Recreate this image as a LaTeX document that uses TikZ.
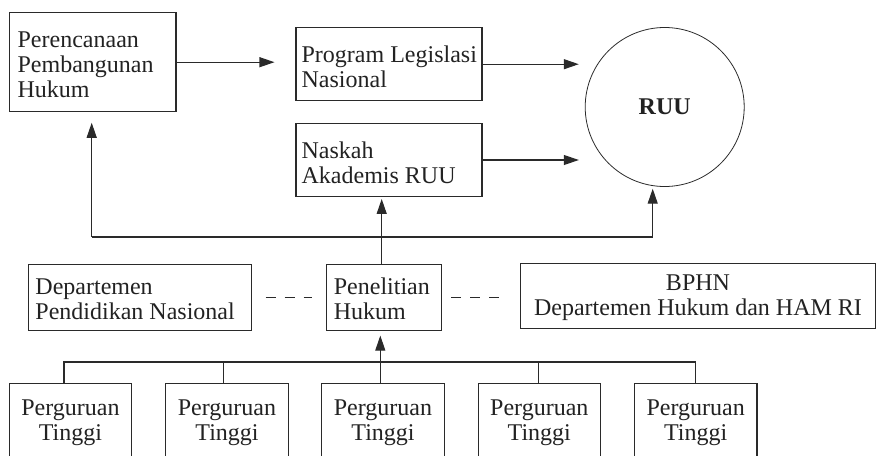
\documentclass[tikz,border=0pt]{standalone}
\usepackage{fontspec}
\setmainfont{Liberation Serif}
\usetikzlibrary{arrows.meta,calc}
\definecolor{ink}{HTML}{2A2A2A}
\definecolor{txt}{HTML}{222222}
\begin{document}
\begin{tikzpicture}[x=1pt,y=-1pt,
  frame/.style={draw=ink, line width=1.1pt, inner sep=0pt},
  lbl/.style={inner sep=0pt, align=left, anchor=west, font=\fontsize{24}{25}\selectfont, text=txt},
  cbox/.style={draw=ink, line width=1.1pt, inner xsep=6pt, inner ysep=0pt, align=center,
    font=\fontsize{24}{25}\selectfont, text=txt},
  arr/.style={draw=ink, line width=1.1pt, -{Triangle[length=15pt,width=10pt]}},
  ln/.style={draw=ink, line width=1.1pt},
  dsh/.style={draw=ink, line width=1.1pt, dash pattern=on 10pt off 9pt}]
\useasboundingbox (0,0) rectangle (877,455);
\clip (0,0) rectangle (877,455);

% top row
\node[frame, minimum width=166.5pt, minimum height=99pt] (perenc) at (92.75,62.2) {};
\node[lbl] (perenc-t) at ([xshift=8.5pt,yshift=-2.5pt]perenc.west)
  {Perencanaan\\Pembangunan\\Hukum};
\node[frame, minimum width=186pt, minimum height=73pt] (prog) at (389,64.2) {};
\node[lbl] (prog-t) at ([xshift=6pt,yshift=-2.5pt]prog.west)
  {Program Legislasi\\Nasional};
\node[frame, minimum width=186pt, minimum height=73.4pt] (naskah) at (389,160) {};
\node[lbl] (naskah-t) at ([xshift=6pt,yshift=-2.5pt]naskah.west)
  {Naskah\\Akademis RUU};
\node[draw=ink, line width=0.8pt, circle, minimum size=159pt, inner sep=0pt,
  font=\fontsize{24}{25}\selectfont\bfseries, text=txt] (ruu) at (664.7,107) {RUU};

% middle row
\node[frame, minimum width=223.4pt, minimum height=65.7pt] (dep) at (140,297.2) {};
\node[lbl] (dep-t) at ([xshift=7.5pt,yshift=-2pt]dep.west)
  {Departemen\\Pendidikan Nasional};
\node[frame, minimum width=115pt, minimum height=65.7pt] (pen) at (384.2,297.2) {};
\node[lbl] (pen-t) at ([xshift=7.5pt,yshift=-2pt]pen.west)
  {Penelitian\\Hukum};
\node[frame, minimum width=355pt, minimum height=65pt] (bphn) at (698,296) {};
\node[lbl, anchor=center, align=center] (bphn-t) at ([yshift=-2pt]bphn.center)
  {BPHN\\Departemen Hukum dan HAM RI};

% bottom row
\foreach \i/\x in {1/70.5,2/227,3/383,4/539.3,5/695.7}{
  \node[cbox, anchor=north, minimum width=122.5pt, inner ysep=17pt] (pt\i) at (\x,382.7)
    {Perguruan\\Tinggi};
}

% coordinates for connector routing
\coordinate (j) at (381.7,237);
\coordinate (k) at (652.7,237);
\coordinate (m) at (91.7,237);
\coordinate (b1) at (64,362);
\coordinate (b2) at (223.7,362);
\coordinate (b3) at (380.3,362);
\coordinate (b4) at (538.7,362);
\coordinate (b5) at (695.7,362);

% top arrows
\draw[arr, shorten >=21pt] (perenc.east) -- (perenc.east -| prog.west);
\draw[arr, shorten >=6pt] (prog.east) -- (prog.east -| ruu.west);
\draw[arr, shorten >=6pt] (naskah.east) -- (naskah.east -| ruu.west);

% feedback
\draw[arr, shorten >=1.7pt] (j |- pen.north) -- (j |- naskah.south);
\draw[ln] (m) -- (k);
\draw[arr, shorten >=10.5pt] (m) -- (m |- perenc.south);
\draw[arr, shorten >=1.8pt] (k) -- (k |- ruu.south);

% dashed links
\draw[dsh, shorten <=13.3pt, shorten >=13.7pt] (dep.east) -- (pen.west);
\draw[dsh, shorten <=9pt, shorten >=21pt] (pen.east) -- (pen.east -| bphn.west);

% bottom tree
\draw[ln] (b1 |- pt1.north) -- (b1) -- (b5) -- (b5 |- pt5.north);
\draw[ln] (b2) -- (b2 |- pt2.north);
\draw[ln] (b4) -- (b4 |- pt4.north);
\draw[arr, shorten >=5pt] (b3 |- pt3.north) -- (b3 |- pen.south);
\end{tikzpicture}
\end{document}
